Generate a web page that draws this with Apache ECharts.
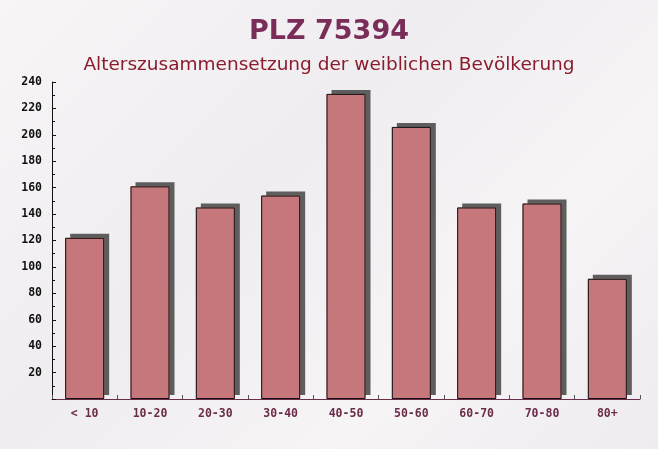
<!DOCTYPE html>
<html><head><meta charset="utf-8">
<script src="https://cdn.jsdelivr.net/npm/echarts@6/dist/echarts.min.js"></script>
<style>html,body{margin:0;padding:0;}#c{width:658px;height:449px;background:linear-gradient(135deg,#f7f5f6 0%,#efedf0 40%,#f6f4f5 70%,#eeecef 100%);}</style>
</head><body><div id="c"></div>
<script>
const categories = ['< 10','10-20','20-30','30-40','40-50','50-60','60-70','70-80','80+'];
const values = [122, 161, 145, 154, 231, 206, 145, 148, 91];
const titleText = 'PLZ 75394';
const subtitleText = 'Alterszusammensetzung der weiblichen Bevölkerung';

const chart = echarts.init(document.getElementById('c'), null, {renderer:'canvas'});
chart.setOption({
  animation:false,
  backgroundColor:'transparent',
  title:[
    {text:titleText, left:'center', top:13, textStyle:{fontFamily:'DejaVu Sans', fontWeight:'bold', fontSize:27, color:'#7a2d58'}},
    {text:subtitleText, left:'center', top:51, textStyle:{fontFamily:'DejaVu Sans', fontWeight:'normal', fontSize:18.5, color:'#8a1c2c'}}
  ],
  grid:{left:52, right:18, top:82, bottom:50},
  xAxis:{
    type:'category', data:categories,
    axisLine:{lineStyle:{color:'#6b2d4a', width:1}},
    axisTick:{show:true, inside:true, length:4, lineStyle:{color:'#555'}},
    axisLabel:{fontFamily:'DejaVu Sans Mono', fontWeight:'bold', fontSize:11.5, color:'#6b2d4a', margin:9}
  },
  yAxis:{
    type:'value', min:0, max:240, interval:20,
    axisLine:{show:true, lineStyle:{color:'#111'}},
    axisTick:{show:true, inside:true, length:4, lineStyle:{color:'#111'}},
    minorTick:{show:true, splitNumber:2, length:3, lineStyle:{color:'#111'}},
    splitLine:{show:false},
    axisLabel:{fontFamily:'DejaVu Sans Mono', fontWeight:'bold', fontSize:11.5, color:'#111', margin:10,
      formatter:v=> v===0 ? '' : v}
  },
  series:[
    {
      type:'bar', data:values, barWidth:39, silent:true, z:1,
      itemStyle:{color:'#c6777b', shadowColor:'#5e5e5e', shadowOffsetX:5, shadowOffsetY:-4, shadowBlur:0}
    },
    {
      type:'bar', data:values, barWidth:39, barGap:'-100%', z:2,
      itemStyle:{color:'#c6777b', borderColor:'#111', borderWidth:1}
    }
  ]
});
</script></body></html>
